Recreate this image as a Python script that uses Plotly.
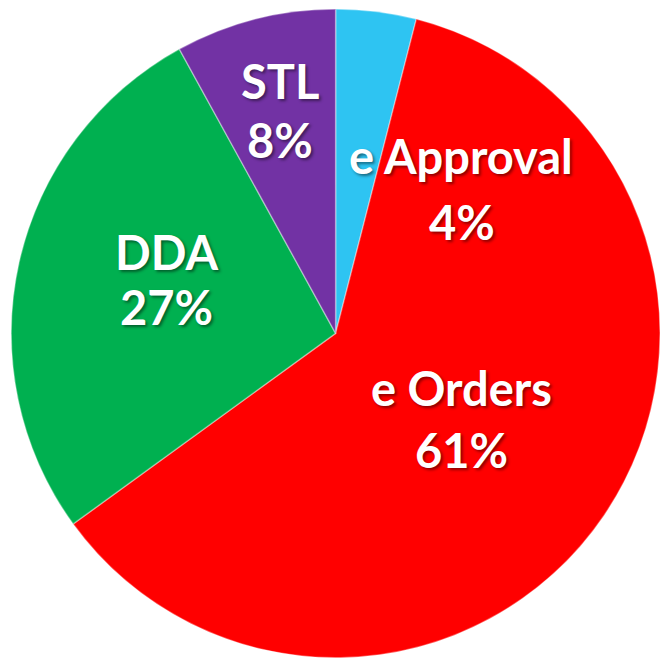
import plotly.graph_objects as go

categories = ["e Approval", "e Orders", "DDA", "STL"]
values = [4, 61, 27, 8]
pct_labels = ["4%", "61%", "27%", "8%"]
colors = ["#2EC4F2", "#FF0000", "#00B050", "#7232A4"]

# label anchor positions (pixel centres in a 660x660 canvas) for name / percent lines
name_pos = [(461, 156), (461, 388), (166, 252), (280, 81)]
pct_pos = [(462, 222), (462, 450), (166, 307), (280, 140)]

W = H = 660

fig = go.Figure(go.Pie(
    labels=categories,
    values=values,
    sort=False,
    direction="clockwise",
    rotation=0,
    marker=dict(colors=colors, line=dict(color="rgba(255,255,255,0.35)", width=1.5)),
    textinfo="none",
    hoverinfo="label+percent",
    domain=dict(x=[0.017, 1.0], y=[0.0, 0.99]),
    showlegend=False,
))

font = dict(family="Lato, 'Open Sans', sans-serif", size=47, color="white",
            weight="bold", shadow="2px 2px 3px rgba(0,0,0,0.45)")

annotations = []
for cat, pct, (nx, ny), (px, py) in zip(categories, pct_labels, name_pos, pct_pos):
    annotations.append(dict(text=cat, x=nx / W, y=1 - ny / H, xref="paper", yref="paper",
                            xanchor="center", yanchor="middle", showarrow=False, font=font))
    annotations.append(dict(text=pct, x=px / W, y=1 - py / H, xref="paper", yref="paper",
                            xanchor="center", yanchor="middle", showarrow=False, font=font))

fig.update_layout(
    width=W, height=H,
    margin=dict(l=0, r=0, t=0, b=0),
    paper_bgcolor="white",
    plot_bgcolor="white",
    annotations=annotations,
)

fig.write_html("out.html",
               config={"displayModeBar": False},
               post_script="document.body.style.margin='0';document.body.style.overflow='hidden';")
